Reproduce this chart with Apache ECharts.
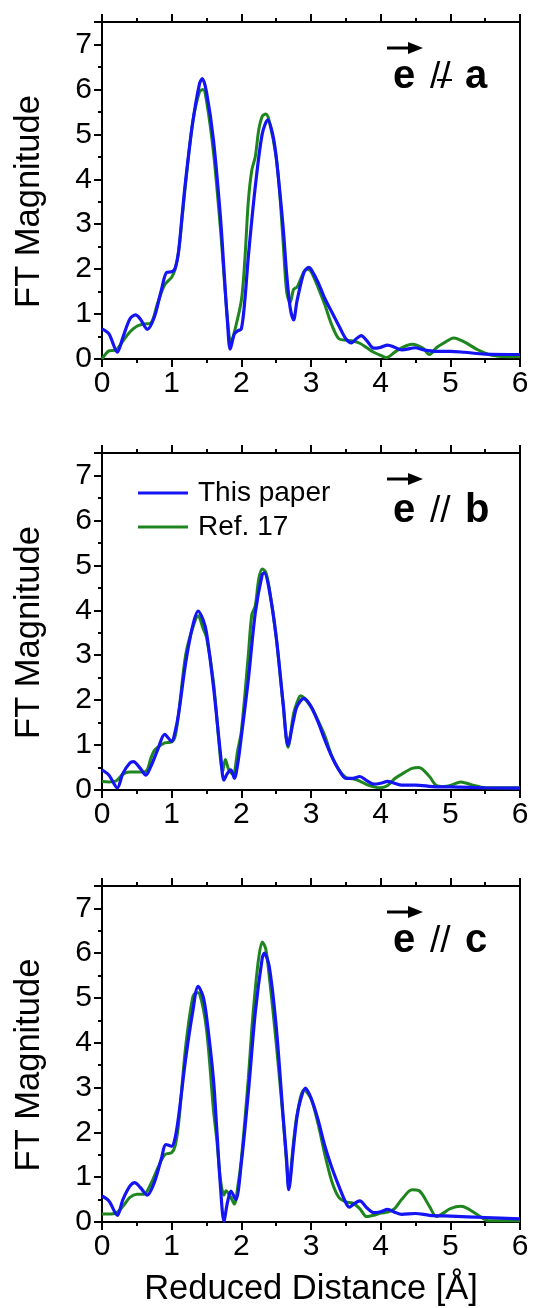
<!DOCTYPE html>
<html>
<head>
<meta charset="utf-8">
<script src="https://cdn.jsdelivr.net/npm/echarts@6/dist/echarts.min.js"></script>
<style>
html,body{margin:0;padding:0;background:#fff;}
#chart{width:533px;height:1308px;}
</style>
</head>
<body>
<div id="chart"></div>
<script>
// ---- data (Reduced Distance [Å], FT Magnitude) ----
const xTicks = [0, 1, 2, 3, 4, 5, 6];
const yTicks = [0, 1, 2, 3, 4, 5, 6, 7];
const panelLabels = ['a', 'b', 'c'];
const seriesNames = ['This paper', 'Ref. 17'];

// panel a : e not-parallel a
const aBlue = [[0,0.67],[0.1,0.56],[0.22,0.15],[0.3,0.48],[0.4,0.89],[0.48,0.98],[0.55,0.89],[0.65,0.66],[0.75,0.93],[0.85,1.52],[0.93,1.93],[1.0,1.94],[1.05,2.02],[1.1,2.4],[1.15,3.2],[1.2,3.97],[1.3,5.24],[1.4,6.13],[1.44,6.24],[1.5,5.94],[1.6,4.87],[1.7,3.16],[1.75,2.0],[1.8,0.85],[1.84,0.22],[1.9,0.56],[1.95,0.63],[2.0,0.67],[2.05,1.3],[2.1,2.27],[2.2,3.83],[2.3,5.01],[2.38,5.32],[2.45,5.0],[2.5,4.5],[2.6,2.93],[2.65,1.9],[2.7,1.15],[2.75,0.87],[2.8,1.3],[2.9,1.93],[2.97,2.04],[3.0,2.0],[3.1,1.71],[3.2,1.34],[3.3,1.04],[3.4,0.74],[3.5,0.45],[3.58,0.36],[3.65,0.45],[3.72,0.52],[3.8,0.41],[3.9,0.24],[4.0,0.26],[4.1,0.31],[4.2,0.26],[4.3,0.2],[4.5,0.25],[4.6,0.21],[4.8,0.17],[5.0,0.17],[5.2,0.15],[5.5,0.11],[6.0,0.1]];
const aGreen = [[0,0.0],[0.1,0.18],[0.2,0.2],[0.3,0.4],[0.4,0.6],[0.5,0.73],[0.6,0.78],[0.7,0.8],[0.8,1.25],[0.9,1.65],[1.0,1.82],[1.05,2.0],[1.1,2.4],[1.2,3.9],[1.3,5.25],[1.4,5.95],[1.45,6.0],[1.5,5.75],[1.6,4.6],[1.7,2.9],[1.8,0.9],[1.85,0.35],[1.9,0.6],[2.0,1.3],[2.05,2.2],[2.1,3.5],[2.15,4.2],[2.2,4.5],[2.25,5.1],[2.3,5.4],[2.35,5.45],[2.4,5.3],[2.5,4.5],[2.55,3.7],[2.6,2.6],[2.65,1.5],[2.7,1.25],[2.75,1.55],[2.8,1.6],[2.9,1.95],[2.95,2.0],[3.0,1.95],[3.1,1.6],[3.2,1.2],[3.3,0.75],[3.4,0.45],[3.5,0.42],[3.6,0.4],[3.7,0.35],[3.8,0.25],[3.9,0.15],[4.0,0.08],[4.08,0.03],[4.2,0.15],[4.3,0.25],[4.45,0.33],[4.6,0.25],[4.7,0.1],[4.8,0.25],[4.9,0.35],[5.05,0.47],[5.2,0.38],[5.4,0.2],[5.6,0.08],[5.8,0.05],[6.0,0.05]];

// panel b : e // b
const bBlue = [[0,0.45],[0.1,0.33],[0.22,0.05],[0.3,0.37],[0.4,0.6],[0.45,0.63],[0.55,0.48],[0.63,0.33],[0.7,0.52],[0.8,0.9],[0.9,1.24],[1.0,1.08],[1.05,1.3],[1.1,1.7],[1.2,2.82],[1.3,3.64],[1.38,3.98],[1.45,3.79],[1.5,3.5],[1.6,2.3],[1.7,0.82],[1.75,0.22],[1.8,0.37],[1.85,0.45],[1.9,0.26],[1.95,0.6],[2.0,1.19],[2.1,2.45],[2.2,3.94],[2.3,4.8],[2.33,4.83],[2.4,4.46],[2.5,3.42],[2.6,1.93],[2.67,1.0],[2.75,1.56],[2.8,1.86],[2.9,2.04],[3.0,1.86],[3.1,1.52],[3.2,1.11],[3.3,0.74],[3.4,0.45],[3.5,0.26],[3.6,0.26],[3.7,0.3],[3.8,0.21],[3.9,0.13],[4.0,0.15],[4.1,0.19],[4.3,0.11],[4.5,0.11],[4.8,0.07],[5.0,0.07],[5.5,0.05],[6.0,0.04]];
const bGreen = [[0,0.19],[0.1,0.18],[0.2,0.2],[0.3,0.35],[0.4,0.4],[0.5,0.4],[0.6,0.4],[0.65,0.45],[0.7,0.7],[0.75,0.88],[0.8,0.95],[0.9,1.05],[1.0,1.07],[1.05,1.2],[1.1,1.7],[1.2,3.0],[1.3,3.6],[1.38,3.88],[1.45,3.6],[1.5,3.4],[1.6,2.4],[1.7,0.7],[1.73,0.4],[1.77,0.68],[1.82,0.45],[1.88,0.35],[1.95,0.9],[2.0,1.3],[2.1,3.0],[2.15,3.9],[2.2,4.1],[2.25,4.7],[2.3,4.92],[2.35,4.85],[2.4,4.5],[2.5,3.4],[2.6,1.9],[2.67,0.95],[2.75,1.7],[2.8,1.95],[2.85,2.1],[2.9,2.05],[3.0,1.85],[3.1,1.55],[3.2,1.2],[3.3,0.75],[3.4,0.45],[3.5,0.28],[3.6,0.25],[3.7,0.2],[3.8,0.12],[3.9,0.07],[4.0,0.05],[4.1,0.1],[4.2,0.25],[4.3,0.35],[4.45,0.48],[4.55,0.5],[4.7,0.3],[4.8,0.1],[4.9,0.08],[5.0,0.1],[5.15,0.18],[5.3,0.12],[5.5,0.05],[6.0,0.05]];

// panel c : e // c
const cBlue = [[0,0.58],[0.1,0.47],[0.22,0.15],[0.3,0.5],[0.4,0.8],[0.47,0.88],[0.55,0.77],[0.65,0.6],[0.75,0.88],[0.85,1.4],[0.92,1.73],[1.0,1.69],[1.05,1.88],[1.1,2.36],[1.2,3.63],[1.3,4.67],[1.38,5.26],[1.45,5.04],[1.5,4.59],[1.6,3.18],[1.65,2.0],[1.7,0.8],[1.75,0.02],[1.8,0.43],[1.85,0.69],[1.92,0.5],[2.0,1.32],[2.1,2.88],[2.2,4.67],[2.3,5.89],[2.33,6.0],[2.4,5.71],[2.5,4.37],[2.6,2.36],[2.65,1.4],[2.68,0.72],[2.75,1.69],[2.8,2.36],[2.85,2.73],[2.92,2.99],[3.0,2.77],[3.1,2.29],[3.2,1.69],[3.3,1.21],[3.4,0.8],[3.5,0.43],[3.55,0.33],[3.62,0.41],[3.7,0.47],[3.8,0.32],[3.9,0.21],[4.0,0.23],[4.1,0.28],[4.2,0.22],[4.3,0.17],[4.5,0.19],[4.7,0.15],[5.0,0.13],[5.5,0.1],[6.0,0.07]];
const cGreen = [[0,0.18],[0.1,0.18],[0.2,0.2],[0.3,0.35],[0.4,0.55],[0.5,0.62],[0.6,0.62],[0.7,0.85],[0.8,1.2],[0.9,1.5],[1.0,1.55],[1.05,1.7],[1.1,2.2],[1.2,3.9],[1.3,5.0],[1.35,5.12],[1.4,5.1],[1.5,4.3],[1.6,2.5],[1.65,1.8],[1.7,0.95],[1.75,0.6],[1.78,0.7],[1.85,0.55],[1.9,0.4],[1.95,0.8],[2.0,1.4],[2.1,3.2],[2.15,4.3],[2.2,5.2],[2.25,5.9],[2.3,6.25],[2.35,6.1],[2.4,5.5],[2.5,4.0],[2.6,2.3],[2.65,1.3],[2.68,0.8],[2.75,1.8],[2.8,2.4],[2.9,2.95],[3.0,2.75],[3.1,2.2],[3.2,1.5],[3.3,0.9],[3.4,0.55],[3.5,0.45],[3.6,0.42],[3.7,0.3],[3.8,0.12],[3.9,0.15],[4.0,0.2],[4.1,0.22],[4.2,0.3],[4.3,0.5],[4.45,0.72],[4.55,0.7],[4.7,0.35],[4.8,0.12],[4.9,0.2],[5.0,0.3],[5.15,0.35],[5.25,0.3],[5.4,0.15],[5.55,0.03],[6.0,0.03]];

const panelData = [[aBlue, aGreen], [bBlue, bGreen], [cBlue, cGreen]];

// ---- layout ----
const FONT = 'Liberation Sans, Arial, Helvetica, sans-serif';
const BLUE = '#1414f5';
const GREEN = '#1f861f';
const panelTops = [22, 453, 886];
const PLOT_LEFT = 102, PLOT_W = 418, PLOT_H = 337;

const grids = [], xAxes = [], yAxes = [], series = [], graphics = [];

panelTops.forEach((top, i) => {
  grids.push({left: PLOT_LEFT, top: top, width: PLOT_W, height: PLOT_H, containLabel: false});
  const isLast = i === panelTops.length - 1;
  const lineStyle = {color: '#000', width: 2};
  // bottom x axis
  xAxes.push({
    type: 'value', gridIndex: i, position: 'bottom',
    min: xTicks[0], max: xTicks[xTicks.length - 1], interval: 1,
    axisLine: {show: true, onZero: false, lineStyle},
    axisTick: {show: true, inside: false, length: 8, lineStyle: {color: '#000', width: 2}},
    minorTick: {show: true, splitNumber: 2, length: 4, lineStyle: {color: '#000', width: 2}},
    axisLabel: {show: true, margin: 10, fontSize: 30, color: '#000', fontFamily: FONT},
    splitLine: {show: false},
    name: isLast ? 'Reduced Distance [Å]' : '',
    nameLocation: 'middle', nameGap: 50,
    nameTextStyle: {fontSize: 34.5, color: '#000', fontFamily: FONT}
  });
  // top x axis (ticks only)
  xAxes.push({
    type: 'value', gridIndex: i, position: 'top',
    min: xTicks[0], max: xTicks[xTicks.length - 1], interval: 1,
    axisLine: {show: true, onZero: false, lineStyle},
    axisTick: {show: true, inside: false, length: 8, lineStyle: {color: '#000', width: 2}},
    minorTick: {show: true, splitNumber: 2, length: 4, lineStyle: {color: '#000', width: 2}},
    axisLabel: {show: false},
    splitLine: {show: false}
  });
  // left y axis
  yAxes.push({
    type: 'value', gridIndex: i, position: 'left',
    min: yTicks[0], max: 7.5, interval: 1,
    axisLine: {show: true, onZero: false, lineStyle},
    axisTick: {show: true, inside: false, length: 8, lineStyle: {color: '#000', width: 2}},
    minorTick: {show: true, splitNumber: 2, length: 4, lineStyle: {color: '#000', width: 2}},
    axisLabel: {show: true, margin: 10, fontSize: 30, color: '#000', fontFamily: FONT,
      formatter: v => (yTicks.indexOf(v) >= 0 ? String(v) : '')},
    splitLine: {show: false},
    name: 'FT Magnitude', nameLocation: 'middle', nameGap: 55, nameRotate: 90,
    nameTextStyle: {fontSize: 34.5, color: '#000', fontFamily: FONT, padding: [0, 22, 0, 0]}
  });
  // right y axis (frame only)
  yAxes.push({
    type: 'value', gridIndex: i, position: 'right',
    min: yTicks[0], max: 7.5, interval: 1,
    axisLine: {show: true, onZero: false, lineStyle},
    axisTick: {show: false}, axisLabel: {show: false}, splitLine: {show: false}
  });

  const [blue, green] = panelData[i];
  series.push({
    name: seriesNames[1], type: 'line', xAxisIndex: 2 * i, yAxisIndex: 2 * i,
    data: green, showSymbol: false, smooth: 0.3, z: 2,
    lineStyle: {color: GREEN, width: 3}, itemStyle: {color: GREEN}
  });
  series.push({
    name: seriesNames[0], type: 'line', xAxisIndex: 2 * i, yAxisIndex: 2 * i,
    data: blue, showSymbol: false, smooth: 0.3, z: 3,
    lineStyle: {color: BLUE, width: 3.2}, itemStyle: {color: BLUE}
  });

  // polarisation annotation: arrow over "e"
  const arrowY = top + 26;
  graphics.push({type: 'line', z: 10, shape: {x1: 387, y1: arrowY, x2: 411, y2: arrowY},
    style: {stroke: '#000', lineWidth: 3}});
  graphics.push({type: 'polygon', z: 10, shape: {points: [[408, arrowY - 6], [423, arrowY], [408, arrowY + 6]]},
    style: {fill: '#000'}});
  const base = top + (i === 1 ? 69 : 66);
  graphics.push({type: 'text', z: 10, x: 393, y: base + 9,
    style: {text: 'e', font: 'bold 40px ' + FONT, fill: '#000', align: 'left', verticalAlign: 'bottom'}});
  graphics.push({type: 'text', z: 10, x: 430, y: base + 8,
    style: {text: '//', font: '37px ' + FONT, fill: '#000', align: 'left', verticalAlign: 'bottom'}});
  graphics.push({type: 'text', z: 10, x: 465, y: base + 9,
    style: {text: panelLabels[i], font: 'bold 40px ' + FONT, fill: '#000', align: 'left', verticalAlign: 'bottom'}});
  if (i === 0) {
    graphics.push({type: 'line', z: 11, shape: {x1: 437, y1: base - 8, x2: 452, y2: base - 8},
      style: {stroke: '#000', lineWidth: 2}});
  }
});

const chart = echarts.init(document.getElementById('chart'), null, {renderer: 'canvas'});
chart.setOption({
  animation: false,
  backgroundColor: '#fff',
  grid: grids,
  xAxis: xAxes,
  yAxis: yAxes,
  legend: {
    data: [seriesNames[0], seriesNames[1]],
    orient: 'vertical', left: 133, top: 474,
    icon: 'rect', itemWidth: 50, itemHeight: 3, itemGap: 6,
    selectedMode: false,
    textStyle: {fontSize: 28, color: '#000', fontFamily: FONT, lineHeight: 28, padding: [0, 0, 0, 5]}
  },
  series: series,
  graphic: graphics
});
</script>
</body>
</html>
